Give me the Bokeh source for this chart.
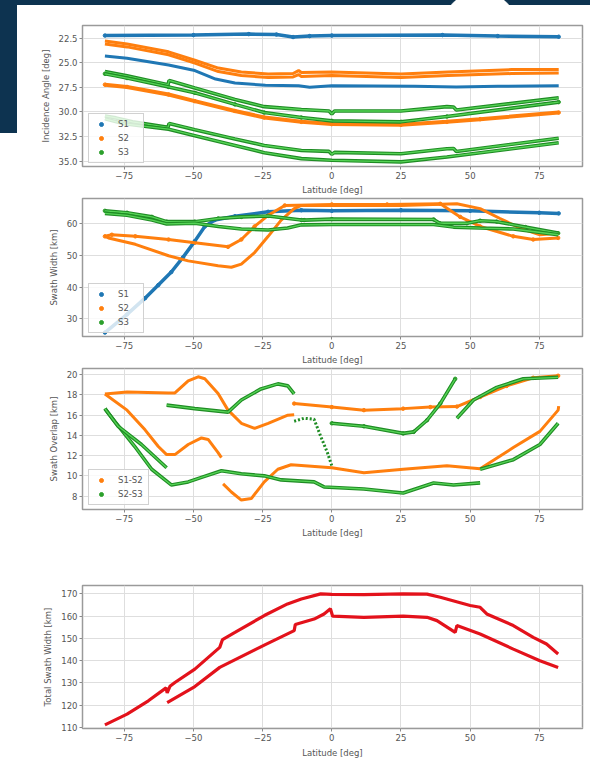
from bokeh.plotting import figure
from bokeh.layouts import column
from bokeh.models import Range1d, FixedTicker, CustomJSTickFormatter, Legend, LegendItem
from bokeh.embed import file_html
from bokeh.resources import INLINE

# ---------------- data ----------------
x_ticks = [-75, -50, -25, 0, 25, 50, 75]

# Panel 1: incidence angle [deg]
p1_s1a_lat = [-82, -50, -30, -20, -14, -8, 0, 40, 60, 82]
p1_s1a_val = [22.25, 22.2, 22.1, 22.15, 22.4, 22.3, 22.25, 22.2, 22.3, 22.37]
p1_s1b_lat = [-82, -74, -59, -49.5, -42, -35, -24, -12, -8, 0, 30, 45, 60, 82]
p1_s1b_val = [24.33, 24.56, 25.23, 25.8, 26.66, 27.06, 27.3, 27.33, 27.5, 27.33, 27.4, 27.46, 27.4, 27.33]
p1_s2a_lat = [-82, -74, -59, -49.5, -41, -32.7, -23, -14, -12, -11, 0, 25, 42, 65, 82]
p1_s2a_val = [22.8, 23.1, 23.9, 24.75, 25.55, 25.95, 26.15, 26.1, 25.8, 26.0, 25.95, 26.15, 25.95, 25.7, 25.7]
p1_s2b_val = [23.1, 23.4, 24.2, 25.05, 25.9, 26.3, 26.5, 26.45, 26.2, 26.4, 26.3, 26.5, 26.3, 26.1, 26.05]
p1_s2c_lat = [-82, -74, -59, -49.5, -35, -24.4, -11, 0, 25, 41.6, 53.6, 82]
p1_s2c_val = [27.23, 27.46, 28.23, 28.9, 29.9, 30.56, 31.0, 31.23, 31.3, 31.0, 30.73, 30.06]
p1_s3a_lat = [-82, -74, -59.2, -58.8, -49.5, -35, -24.4, -11, -1, 0, 1, 25, 41.6, 44, 45, 82]
p1_s3a_val = [25.9, 26.33, 27.23, 26.8, 27.56, 28.73, 29.46, 29.75, 29.9, 30.2, 29.9, 29.9, 29.46, 29.5, 29.8, 28.56]
p1_s3b_lat = [-82, -74, -59, -49.5, -35, -24.4, -11, 0, 25, 41.6, 82]
p1_s3b_val = [26.13, 26.56, 27.46, 28.06, 29.23, 30.06, 30.56, 30.9, 31.0, 30.46, 29.0]
p1_s3c_lat = [-82, -78, -72, -59.2, -58.8, -49.5, -35, -24.4, -11, -1, 0, 1, 25, 41.6, 44, 45, 82]
p1_s3c_val = [30.4, 30.6, 31.0, 31.56, 31.16, 31.8, 32.73, 33.4, 33.9, 34.0, 34.3, 34.1, 34.23, 33.73, 33.7, 34.0, 32.66]
p1_s3d_lat = [-82, -75, -59, -49.5, -35, -24.4, -11, 0, 25, 41.6, 82]
p1_s3d_val = [30.7, 31.2, 31.75, 32.4, 33.4, 34.13, 34.73, 34.9, 35.06, 34.56, 33.13]

# Panel 2: swath width [km]
p2_s1_lat = [-82, -74, -67.5, -62.7, -58, -53.8, -49.5, -45.9, -42.3, -35, -23, -11, 0, 25, 50, 75, 82]
p2_s1_val = [25.7, 31.4, 36.5, 40.6, 44.7, 49.3, 54.4, 59.0, 61.0, 62.2, 63.6, 64.1, 63.9, 64.1, 63.9, 63.3, 63.1]
p2_s2a_lat = [-82, -79.5, -71, -59, -49.5, -37.5, -32.7, -27.9, -23, -17, 0, 20, 39.2, 46.4, 53.6, 65.6, 72.8, 81.8]
p2_s2a_val = [55.9, 56.4, 55.9, 54.9, 53.9, 52.6, 54.9, 59.0, 62.5, 65.6, 65.9, 65.9, 66.1, 62.0, 59.0, 55.9, 54.9, 55.4]
p2_s2b_lat = [-82, -80.7, -71, -59, -51.9, -41.1, -36.3, -32.7, -27.9, -23, -18.3, -13.6, -11, 0, 25, 45.2, 53.6, 60.8, 68, 75.2, 81.8]
p2_s2b_val = [55.9, 55.4, 53.4, 49.8, 48.2, 46.7, 46.2, 47.2, 50.8, 55.9, 61.0, 64.6, 65.6, 65.6, 65.6, 66.1, 64.6, 61.5, 58.5, 56.4, 56.9]
p2_s3a_lat = [-82, -74, -65, -59.7, -49.5, -41, -32.7, -23, -11, -10, 0, 36.8, 39, 48.8, 53.6, 59.6, 70, 81.8]
p2_s3a_val = [63.9, 63.3, 62.0, 60.5, 60.5, 61.5, 62.0, 62.3, 61.0, 61.0, 61.3, 61.2, 60.0, 60.0, 60.8, 60.5, 58.8, 56.9]
p2_s3b_lat = [-82, -74, -65, -59.7, -49.5, -41, -32.7, -23, -16, -11, 0, 36.8, 44, 53.6, 65.6, 81.8]
p2_s3b_val = [63.1, 62.5, 61.0, 59.8, 60.0, 59.0, 58.2, 57.9, 58.5, 59.5, 59.6, 59.6, 58.8, 58.5, 58.2, 56.4]

# Panel 3: swath overlap [km]
p3_o1_lat = [-82, -74, -59, -56.7, -51.9, -48.3, -45.9, -41.1, -37.5, -32.7, -27.9, -23, -15.9, -13.6]
p3_o1_val = [18.1, 18.3, 18.2, 18.2, 19.4, 19.8, 19.6, 18.15, 16.5, 15.2, 14.7, 15.2, 16.0, 16.05]
p3_o2_lat = [-82, -74, -67.5, -62.7, -59.7, -56.7, -51.9, -47.1, -44.7, -41.1, -39.9]
p3_o2_val = [18.1, 16.5, 14.55, 12.9, 12.1, 12.1, 13.1, 13.75, 13.6, 12.3, 11.8]
p3_o3_lat = [-39.3, -36.3, -32.7, -29.1, -24.4, -19.5, -14.7, 0, 11.6, 25.8, 41.6, 53.6, 65.6, 75.2, 81.8, 82]
p3_o3_val = [9.2, 8.4, 7.6, 7.75, 9.4, 10.65, 11.1, 10.8, 10.3, 10.65, 11.0, 10.7, 12.8, 14.4, 16.5, 16.9]
p3_o4_lat = [-13.6, 0, 11.6, 25.8, 35.6, 45.2, 53.6, 63.2, 72.8, 81.8]
p3_o4_val = [17.15, 16.8, 16.5, 16.65, 16.8, 16.85, 17.8, 18.9, 19.7, 19.9]
p3_g1_lat = [-82, -78.4, -71.2, -65.1, -58, -51.9, -47.1, -39.9, -32.7, -24.4, -18.3, -6.4, -2.8, 11.6, 25.8, 36.8, 44, 53.6]
p3_g1_val = [16.65, 15.36, 12.9, 10.65, 9.1, 9.4, 9.85, 10.5, 10.2, 10.0, 9.6, 9.4, 8.9, 8.7, 8.3, 9.3, 9.1, 9.3]
p3_g2_lat = [-82, -77.2, -68.8, -59.7]
p3_g2_val = [16.65, 14.9, 13.1, 10.8]
p3_g3_lat = [-59.7, -49.5, -37.5, -32.7, -25.6, -19.5, -15.9, -13.6]
p3_g3_val = [17.0, 16.65, 16.3, 17.5, 18.6, 19.1, 18.9, 18.1]
p3_g4_lat = [-13.6, -10, -6.4, -4, -1.6, 0]
p3_g4_val = [15.4, 15.7, 15.6, 13.9, 12.3, 11.0]
p3_g5_lat = [0, 11.6, 25.8, 29.6, 34.4, 39.2, 44.6]
p3_g5_val = [15.2, 14.9, 14.2, 14.35, 15.5, 17.15, 19.6]
p3_g6_lat = [45.2, 51.2, 59.6, 69.2, 81.8]
p3_g6_val = [15.7, 17.5, 18.75, 19.6, 19.75]
p3_g7_lat = [53.6, 65.6, 75.2, 81.8]
p3_g7_val = [10.65, 11.6, 13.1, 15.2]

# Panel 4: total swath width [km]
p4_a_lat = [-82, -74, -66.3, -59.9, -59.5, -58.5, -56.7, -49.5, -40.5, -39.5, -35, -24.4, -16, -11, -4, 0,
            11.6, 25.8, 34.4, 39.2, 50, 53.6, 56, 65.6, 72.8, 77.6, 81.8]
p4_a_val = [111.2, 116, 122, 127.8, 125.5, 128.5, 130.2, 136.2, 146, 149.5, 152.7, 160.3, 165.5, 167.7, 170, 169.8,
            169.7, 170, 169.9, 168.5, 164.8, 164, 161, 155.8, 150.5, 147.5, 143]
p4_b_lat = [-59.5, -49.5, -40.5, -24.4, -13.6, -13.2, -6.4, -2.8, -0.5, 0.3, 11.6, 25.8, 34.4, 38, 44.6, 45.2,
            53.6, 65.6, 75.2, 81.8]
p4_b_val = [121.2, 128.4, 137, 147, 153.5, 156.3, 158.7, 161, 163.3, 160, 159.5, 160, 159.5, 158, 152.7, 155.8,
            152, 145.2, 140, 137]

# ---------------- style ----------------
BLUE = "#1f77b4"
ORANGE = "#ff7f0e"
GREEN_D = "#1f8c24"
GREEN_L = "#56d456"
GREEN_M = "#2ca02c"
RED = "#e3121b"
NAVY = "#0d3350"
FONT = "DejaVu Sans"
TXT = "#555555"
FS = "8.5px"

xfmt = CustomJSTickFormatter(code="return (tick < 0 ? '\u2212' : '') + Math.abs(tick).toFixed(0);")


def make_fig(height, top, bottom, y_range, yticks, ylabel, ydec):
    p = figure(width=590, height=height, x_range=Range1d(-90.1, 90.6), y_range=y_range,
               output_backend="svg", toolbar_location=None, tools="",
               min_border_left=82, min_border_right=8, min_border_top=top, min_border_bottom=bottom)
    p.background_fill_color = "white"
    p.border_fill_color = "white"
    p.outline_line_color = "#9a9a9a"
    p.outline_line_width = 1.5
    for ax in (p.xaxis[0], p.yaxis[0]):
        ax.axis_line_color = None
        ax.major_tick_line_color = "#8a8a8a"
        ax.major_tick_out = 3
        ax.major_tick_in = 0
        ax.minor_tick_line_color = None
        ax.major_label_text_font = FONT
        ax.major_label_text_font_size = FS
        ax.major_label_text_color = TXT
        ax.major_label_standoff = 2
        ax.axis_label_text_font = FONT
        ax.axis_label_text_font_size = FS
        ax.axis_label_text_color = TXT
        ax.axis_label_text_font_style = "normal"
    p.xaxis.ticker = FixedTicker(ticks=x_ticks)
    p.xaxis.formatter = xfmt
    p.xaxis.axis_label = "Latitude [deg]"
    p.xaxis.axis_label_standoff = 3
    p.yaxis.ticker = FixedTicker(ticks=yticks)
    p.yaxis.formatter = CustomJSTickFormatter(code="return tick.toFixed(%d);" % ydec)
    p.yaxis.axis_label = ylabel
    p.yaxis.axis_label_standoff = 5
    p.grid.grid_line_color = "#dedede"
    p.grid.grid_line_width = 1
    return p


def green(p, xs, ys, dash="solid"):
    p.line(xs, ys, line_color=GREEN_D, line_width=3.6, line_dash=dash)
    p.line(xs, ys, line_color=GREEN_L, line_width=1.3, line_dash=dash)


def markers(p, xs, ys, col):
    # the measured points themselves (scatter), drawn under the lines
    return p.scatter(xs, ys, marker="circle", size=3.5, fill_color=col, line_color=col)


def add_legend(p, entries, y):
    items = [LegendItem(label=lab, renderers=[r]) for lab, r in entries]
    lg = Legend(items=items, location=(6, y), orientation="vertical",
                label_text_font=FONT, label_text_font_size=FS, label_text_color=TXT,
                glyph_width=14, glyph_height=10, label_height=10, label_standoff=10,
                spacing=4, padding=5, margin=0,
                border_line_color="#cccccc", border_line_alpha=0.9,
                background_fill_color="white", background_fill_alpha=0.8)
    p.add_layout(lg, "center")


# ---- Panel 1 ----
p1 = make_fig(197, 25, 29, Range1d(35.53, 21.23), [22.5, 25.0, 27.5, 30.0, 32.5, 35.0], "Incidence Angle [deg]", 1)
p1.border_fill_alpha = 0
p1.styles = {"background": ("radial-gradient(circle 39px at 480px 30px, #ffffff 97%, rgba(255,255,255,0) 100%), "
                            f"linear-gradient({NAVY}, {NAVY}) 0 0 / 100% 5px no-repeat, "
                            f"linear-gradient({NAVY}, {NAVY}) 0 0 / 17px 133px no-repeat, #ffffff")}
m1 = markers(p1, p1_s1a_lat, p1_s1a_val, BLUE)
m2 = markers(p1, p1_s2c_lat, p1_s2c_val, ORANGE)
m3 = markers(p1, p1_s3b_lat, p1_s3b_val, GREEN_M)
p1.line(p1_s1a_lat, p1_s1a_val, line_color=BLUE, line_width=3.5)
p1.line(p1_s1b_lat, p1_s1b_val, line_color=BLUE, line_width=3)
p1.line(p1_s2a_lat, p1_s2a_val, line_color=ORANGE, line_width=3)
p1.line(p1_s2a_lat, p1_s2b_val, line_color=ORANGE, line_width=3)
p1.line(p1_s2c_lat, p1_s2c_val, line_color=ORANGE, line_width=4)
green(p1, p1_s3a_lat, p1_s3a_val)
green(p1, p1_s3b_lat, p1_s3b_val)
green(p1, p1_s3c_lat, p1_s3c_val)
green(p1, p1_s3d_lat, p1_s3d_val)
add_legend(p1, [("S1", m1), ("S2", m2), ("S3", m3)], 3)

# ---- Panel 2 ----
p2 = make_fig(170, 1, 28, Range1d(24.47, 67.77), [30, 40, 50, 60], "Swath Width [km]", 0)
n1 = markers(p2, p2_s1_lat, p2_s1_val, BLUE)
n2 = markers(p2, p2_s2a_lat, p2_s2a_val, ORANGE)
n3 = markers(p2, p2_s3a_lat, p2_s3a_val, GREEN_M)
p2.line(p2_s1_lat, p2_s1_val, line_color=BLUE, line_width=3.5)
p2.line(p2_s2a_lat, p2_s2a_val, line_color=ORANGE, line_width=3)
p2.line(p2_s2b_lat, p2_s2b_val, line_color=ORANGE, line_width=3)
green(p2, p2_s3a_lat, p2_s3a_val)
green(p2, p2_s3b_lat, p2_s3b_val)
add_legend(p2, [("S1", n1), ("S2", n2), ("S3", n3)], 3)

# ---- Panel 3 ----
p3 = make_fig(173, 1, 29, Range1d(6.67, 20.62), [8, 10, 12, 14, 16, 18, 20], "Swath Overlap [km]", 0)
k1 = markers(p3, p3_o4_lat, p3_o4_val, ORANGE)
k2 = markers(p3, p3_g5_lat, p3_g5_val, GREEN_M)
for xs, ys in [(p3_o1_lat, p3_o1_val), (p3_o2_lat, p3_o2_val), (p3_o3_lat, p3_o3_val), (p3_o4_lat, p3_o4_val)]:
    p3.line(xs, ys, line_color=ORANGE, line_width=3)
for xs, ys in [(p3_g1_lat, p3_g1_val), (p3_g2_lat, p3_g2_val), (p3_g3_lat, p3_g3_val),
               (p3_g5_lat, p3_g5_val), (p3_g6_lat, p3_g6_val), (p3_g7_lat, p3_g7_val)]:
    green(p3, xs, ys)
p3.line(p3_g4_lat, p3_g4_val, line_color=GREEN_D, line_width=3, line_dash="2 2")
add_legend(p3, [("S1-S2", k1), ("S2-S3", k2)], 4)

# ---- Panel 4 ----
p4 = make_fig(221, 45, 33, Range1d(109.55, 173.78), [110, 120, 130, 140, 150, 160, 170], "Total Swath Width [km]", 0)
p4.xaxis.axis_label_standoff = 4
p4.line(p4_a_lat, p4_a_val, line_color=RED, line_width=3.2)
p4.line(p4_b_lat, p4_b_val, line_color=RED, line_width=3.2)

layout = column(p1, p2, p3, p4, spacing=0)
open("out.html", "w").write(file_html(layout, INLINE))
